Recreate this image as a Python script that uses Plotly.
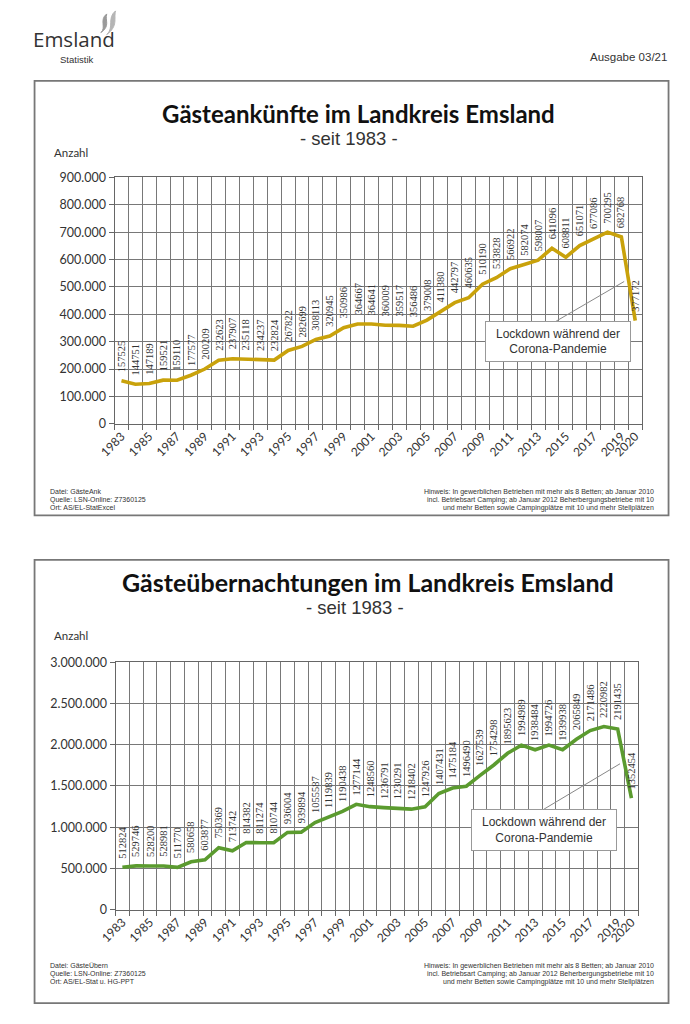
import plotly.graph_objects as go

years = list(range(1983, 2021))
ankuenfte = [157525, 144751, 147189, 159521, 159110, 177577, 200209, 232623, 237907, 235118,
             234237, 232824, 267822, 282699, 308113, 320945, 350986, 364667, 364641, 360009,
             359517, 356486, 379008, 411380, 442797, 460635, 510190, 533828, 566922, 582074,
             598007, 641096, 608811, 651071, 677086, 700295, 682768, 377172]
uebernachtungen = [512824, 529746, 528200, 528981, 511770, 580658, 603877, 750369, 713742, 814382,
                   811274, 810744, 936004, 939894, 1055587, 1119839, 1190438, 1277144, 1248560, 1236791,
                   1230291, 1218402, 1247926, 1407431, 1475184, 1496490, 1627539, 1754298, 1895623, 1994989,
                   1938484, 1994726, 1939938, 2065849, 2171486, 2220982, 2191435, 1352454]
tick_years = list(range(1983, 2020, 2)) + [2020]
tick_text = [str(y) for y in tick_years]

W, H = 690, 1024
def px(x): return x / W
def py(y): return 1 - y / H

GOLD = "#C9A20B"
GREEN = "#5B9B2F"
GRID = "#787878"
TXT = "#333333"

fig = go.Figure()
fig.add_trace(go.Scatter(x=years, y=ankuenfte, mode="lines", line=dict(color=GOLD, width=3.6),
                         xaxis="x", yaxis="y", showlegend=False, hoverinfo="x+y"))
fig.add_trace(go.Scatter(x=years, y=uebernachtungen, mode="lines", line=dict(color=GREEN, width=3.6),
                         xaxis="x2", yaxis="y2", showlegend=False, hoverinfo="x+y"))

def xax(domain, anchor):
    return dict(domain=domain, anchor=anchor, range=[1982.5, 2020.5], tickmode="array",
                tickvals=tick_years, ticktext=tick_text, tickangle=-45, showgrid=False,
                ticks="", tickfont=dict(family="Lato", size=12, color=TXT),
                showline=True, linecolor="#666", linewidth=1, mirror=True,
                minor=dict(tick0=0.5, dtick=1, showgrid=True, gridcolor=GRID, gridwidth=1,
                           ticks="outside", ticklen=5, tickcolor="#666"),
                zeroline=False, fixedrange=True)

def yax(domain, anchor, rng, dtick):
    return dict(domain=domain, anchor=anchor, range=rng, dtick=dtick, tickformat=",",
                showgrid=True, gridcolor=GRID, gridwidth=1, ticks="outside", ticklen=5,
                tickcolor="#666", showline=True, linecolor="#666", linewidth=1, mirror=True,
                tickfont=dict(family="Lato", size=12.5, color=TXT), zeroline=False, fixedrange=True)

layout = dict(
    width=W, height=H, margin=dict(l=0, r=0, t=0, b=0), autosize=False,
    paper_bgcolor="white", plot_bgcolor="white", separators=",.",
    xaxis=xax([px(100), px(641)], "y"),
    yaxis=yax([py(422), py(172)], "x", [0, 900000], 100000),
    xaxis2=xax([px(101), px(637)], "y2"),
    yaxis2=yax([py(915), py(664)], "x2", [0, 3000000], 500000),
)
fig.update_layout(**layout)

ann = []
# data labels
for yr, v in zip(years, ankuenfte):
    ann.append(dict(x=yr, y=v, xref="x", yref="y", text=str(v), showarrow=False, textangle=-90,
                    xanchor="center", yanchor="bottom", yshift=7,
                    font=dict(family="Liberation Serif", size=10.5, color=TXT)))
for yr, v in zip(years, uebernachtungen):
    ann.append(dict(x=yr, y=v, xref="x2", yref="y2", text=str(v), showarrow=False, textangle=-90,
                    xanchor="center", yanchor="bottom", yshift=7,
                    font=dict(family="Liberation Serif", size=10.5, color=TXT)))

def t(x, y, text, size, xanchor="left", family="Liberation Sans", color=TXT, bold=False):
    if bold:
        text = "<b>" + text + "</b>"
    ann.append(dict(x=px(x), y=py(y), xref="paper", yref="paper", text=text, showarrow=False,
                    xanchor=xanchor, yanchor="middle", font=dict(family=family, size=size, color=color)))

# header
t(14, 31, "Emsland", 20.5, family="Open Sans", color="#333")
t(42, 52, "Statistik", 9.5, family="Liberation Sans")
t(668, 50, "Ausgabe 03/21", 11.5, xanchor="right")

# top chart texts
t(350, 107, "Gästeankünfte im Landkreis Emsland", 24, xanchor="center", family="Lato", color="#111", bold=True)
t(340, 132, "- seit 1983 -", 18.5, xanchor="center")
t(36, 147, "Anzahl", 11.5, family="Lato")
t(32, 491, "Datei: GästeAnk", 7)
t(32, 499, "Quelle: LSN-Online: Z7360125", 7)
t(32, 507, "Ort: AS/EL-StatExcel", 7)
t(655, 491, "Hinweis: In gewerblichen Betrieben mit mehr als 8 Betten; ab Januar 2010", 7, xanchor="right")
t(655, 499, "incl. Betriebsart Camping; ab Januar 2012 Beherbergungsbetriebe mit 10", 7, xanchor="right")
t(655, 507, "und mehr Betten sowie Campingplätze mit 10 und mehr Stellplätzen", 7, xanchor="right")

# bottom chart texts
t(360, 583, "Gästeübernachtungen im Landkreis Emsland", 25, xanchor="center", family="Lato", color="#111", bold=True)
t(347, 608, "- seit 1983 -", 18.5, xanchor="center")
t(36, 637, "Anzahl", 11.5, family="Lato")
t(32, 972, "Datei: GästeÜbern", 7)
t(32, 980, "Quelle: LSN-Online: Z7360125", 7)
t(32, 988, "Ort: AS/EL-Stat u. HG-PPT", 7)
t(655, 972, "Hinweis: In gewerblichen Betrieben mit mehr als 8 Betten; ab Januar 2010", 7, xanchor="right")
t(655, 980, "incl. Betriebsart Camping; ab Januar 2012 Beherbergungsbetriebe mit 10", 7, xanchor="right")
t(655, 988, "und mehr Betten sowie Campingplätze mit 10 und mehr Stellplätzen", 7, xanchor="right")

# callouts
ann.append(dict(x=2014.45, y=300000, xref="x", yref="y", text="Lockdown während der<br>Corona-Pandemie",
                showarrow=False, bgcolor="white", bordercolor="#999", borderwidth=1, borderpad=3,
                width=138, height=33, font=dict(family="Liberation Sans", size=12, color=TXT)))
ann.append(dict(x=2013.65, y=968000, xref="x2", yref="y2", text="Lockdown während der<br>Corona-Pandemie",
                showarrow=False, bgcolor="white", bordercolor="#999", borderwidth=1, borderpad=3,
                width=138, height=34, font=dict(family="Liberation Sans", size=12, color=TXT)))

shapes = [
    dict(type="line", xref="x", yref="y", x0=2014.3, y0=375000, x1=2019.2, y1=520000,
         line=dict(color="#888", width=1)),
    dict(type="line", xref="x2", yref="y2", x0=2013.65, y0=1219000, x1=2019.17, y1=1769000,
         line=dict(color="#888", width=1)),
    dict(type="rect", xref="paper", yref="paper", x0=px(18), x1=px(668), y0=py(515), y1=py(74),
         line=dict(color="#777", width=1.8), layer="below"),
    dict(type="rect", xref="paper", yref="paper", x0=px(18), x1=px(668), y0=py(1010), y1=py(560),
         line=dict(color="#777", width=1.8), layer="below"),
]
# logo swirl
def P(x, y): return f"{px(x):.4f},{py(y):.4f}"
shapes.append(dict(type="path", xref="paper", yref="paper",
                   path=f"M {P(86,25)} C {P(92,20)} {P(84,12)} {P(92,6)} C {P(90,13)} {P(96,18)} {P(86,25)} Z",
                   fillcolor="#9a9a9a", line=dict(color="#9a9a9a", width=1)))
shapes.append(dict(type="path", xref="paper", yref="paper",
                   path=f"M {P(92,27)} C {P(100,20)} {P(92,10)} {P(101,3)} C {P(99,11)} {P(104,18)} {P(92,27)} Z",
                   fillcolor="#b5b5b5", line=dict(color="#b5b5b5", width=1)))

fig.update_layout(annotations=ann, shapes=shapes)
fig.write_html("out.html", config={"displayModeBar": False},
               post_script="document.body.style.margin='0';document.body.style.padding='0';"
                           "document.body.style.overflow='hidden';")
